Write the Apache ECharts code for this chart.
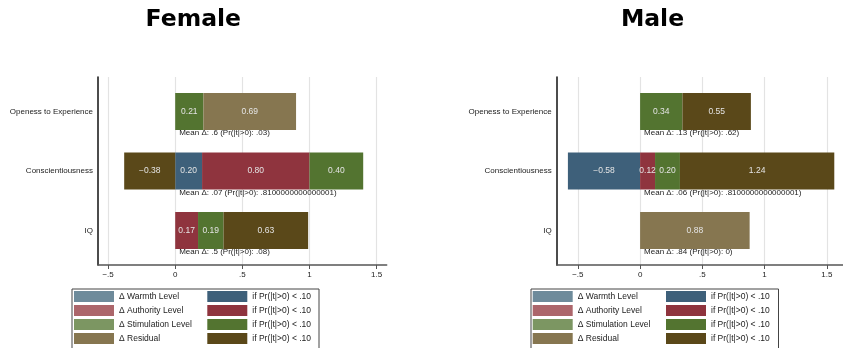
<!DOCTYPE html>
<html>
<head>
<meta charset="utf-8">
<script src="https://cdn.jsdelivr.net/npm/echarts@6/dist/echarts.min.js"></script>
<style>
  html, body { margin: 0; padding: 0; background: #fff; }
  #chart { width: 843px; height: 348px; }
</style>
</head>
<body>
<div id="chart"></div>
<script>
// Decomposition of mean differences into components, by gender
const categories = ['Openess to Experience', 'Conscientiousness', 'IQ'];
const componentNames = ['Δ Warmth Level', 'Δ Authority Level', 'Δ Stimulation Level', 'Δ Residual'];
const sigLabel = 'if Pr(|t|>0) < .10';
const xTicks = [-0.5, 0, 0.5, 1, 1.5];

// Female
const femaleWarmth      = [null, 0.20, null];
const femaleAuthority   = [null, 0.80, 0.17];
const femaleStimulation = [0.21, 0.40, 0.19];
const femaleResidual    = [0.69, -0.38, 0.63];
const femaleWarmthSig      = [false, true, false];
const femaleAuthoritySig   = [false, true, true];
const femaleStimulationSig = [true, true, true];
const femaleResidualSig    = [false, true, true];
const femaleMeanDelta = ['.6', '.07', '.5'];
const femalePValue    = ['.03', '.8100000000000001', '.08'];

// Male
const maleWarmth      = [null, -0.58, null];
const maleAuthority   = [null, 0.12, null];
const maleStimulation = [0.34, 0.20, null];
const maleResidual    = [0.55, 1.24, 0.88];
const maleWarmthSig      = [false, true, false];
const maleAuthoritySig   = [false, true, false];
const maleStimulationSig = [true, true, false];
const maleResidualSig    = [true, true, false];
const maleMeanDelta = ['.13', '.06', '.84'];
const malePValue    = ['.62', '.8100000000000001', '0'];

const lightColors = ['#6e8b9b', '#ac666b', '#7c9662', '#867650'];
const darkColors  = ['#3e607a', '#8f343e', '#537430', '#5a4819'];
const sigNames = ['sigWarmth', 'sigAuthority', 'sigStimulation', 'sigResidual'];

const FONT = '"Liberation Sans", Arial, sans-serif';
const BAR_H = 37;

function fmtValue(v) {
  const s = Math.abs(v).toFixed(2);
  return v < 0 ? '\u2212' + s : s;
}
function fmtTick(v) {
  if (v === 0) return '0';
  const s = String(Math.abs(v)).replace(/^0\./, '.');
  return (v < 0 ? '\u2212' : '') + s;
}

// Stack components left-to-right (positives from 0 rightwards, negatives leftwards)
function buildSegments(vals, sigs) {
  const light = vals.map(() => []);
  const dark = vals.map(() => []);
  for (let i = 0; i < categories.length; i++) {
    let pos = 0, neg = 0;
    for (let k = 0; k < vals.length; k++) {
      const v = vals[k][i];
      if (v == null) continue;
      let s, e;
      if (v >= 0) { s = pos; e = pos + v; pos = e; }
      else { e = neg; s = neg + v; neg = s; }
      (sigs[k][i] ? dark : light)[k].push([s, e, i, v]);
    }
  }
  return { light, dark };
}

function renderSegment(params, api) {
  const s = api.value(0), e = api.value(1), c = api.value(2), v = api.value(3);
  const p0 = api.coord([s, c]);
  const p1 = api.coord([e, c]);
  return {
    type: 'group',
    children: [
      {
        type: 'rect',
        shape: { x: p0[0], y: p0[1] - BAR_H / 2, width: p1[0] - p0[0], height: BAR_H },
        style: { fill: api.visual('color') }
      },
      {
        type: 'text',
        z2: 20,
        style: {
          text: fmtValue(v), x: (p0[0] + p1[0]) / 2, y: p0[1],
          align: 'center', verticalAlign: 'middle',
          fill: '#e4e4e4', fontSize: 8.5, fontFamily: FONT
        }
      }
    ]
  };
}

function renderMean(params, api) {
  const c = api.value(0);
  const p = api.coord([0, c]);
  return {
    type: 'text',
    z2: 30,
    style: {
      text: params.context.texts[params.dataIndex],
      x: p[0] + 4, y: p[1] + 21.5,
      align: 'left', verticalAlign: 'middle',
      fill: '#222', fontSize: 8, fontFamily: FONT
    }
  };
}

const panels = [
  {
    title: 'Female', center: 193.3,
    grid: { left: 98, top: 77, width: 288.7, height: 188 },
    xMin: -0.575, xMax: 1.575,
    vals: [femaleWarmth, femaleAuthority, femaleStimulation, femaleResidual],
    sigs: [femaleWarmthSig, femaleAuthoritySig, femaleStimulationSig, femaleResidualSig],
    mean: femaleMeanDelta, p: femalePValue,
    box: { x: 69.5, w: 247 }, col1: 74, col2: 207.3
  },
  {
    title: 'Male', center: 652.5,
    grid: { left: 556.7, top: 77, width: 288.7, height: 188 },
    xMin: -0.67, xMax: 1.63,
    vals: [maleWarmth, maleAuthority, maleStimulation, maleResidual],
    sigs: [maleWarmthSig, maleAuthoritySig, maleStimulationSig, maleResidualSig],
    mean: maleMeanDelta, p: malePValue,
    box: { x: 528.5, w: 247.5 }, col1: 532.7, col2: 666
  }
];

const option = {
  animation: false,
  backgroundColor: '#fff',
  grid: [], xAxis: [], yAxis: [], series: [], legend: [], graphic: []
};

panels.forEach((pn, idx) => {
  option.grid.push(Object.assign({ containLabel: false }, pn.grid));
  option.xAxis.push({
    type: 'value', gridIndex: idx, min: pn.xMin, max: pn.xMax,
    axisLine: { show: true, onZero: false, lineStyle: { color: '#555', width: 1.5 } },
    axisTick: { show: true, length: 4, customValues: xTicks, lineStyle: { color: '#555', width: 1 } },
    axisLabel: { customValues: xTicks, formatter: fmtTick, color: '#222', fontSize: 8, fontFamily: FONT, margin: 6 },
    splitLine: { show: true, lineStyle: { color: '#e3e3e3', width: 1.2 } }
  });
  option.yAxis.push({
    type: 'value', gridIndex: idx, inverse: true, min: -0.58, max: 2.58,
    axisLine: { show: true, onZero: false, lineStyle: { color: '#111', width: 1.5 } },
    axisTick: { show: false },
    axisLabel: {
      customValues: [0, 1, 2],
      formatter: v => categories[Math.round(v)] || '',
      color: '#222', fontSize: 8, fontFamily: FONT, margin: 5
    },
    splitLine: { show: false }
  });

  const seg = buildSegments(pn.vals, pn.sigs);
  for (let k = 0; k < 4; k++) {
    option.series.push({
      type: 'custom', name: componentNames[k], xAxisIndex: idx, yAxisIndex: idx,
      itemStyle: { color: lightColors[k] }, renderItem: renderSegment,
      data: seg.light[k], clip: false
    });
    option.series.push({
      type: 'custom', name: sigNames[k], xAxisIndex: idx, yAxisIndex: idx,
      itemStyle: { color: darkColors[k] }, renderItem: renderSegment,
      data: seg.dark[k], clip: false
    });
  }
  const texts = pn.mean.map((m, i) => 'Mean Δ: ' + m + ' (Pr(|t|>0): ' + pn.p[i] + ')');
  option.series.push({
    type: 'custom', name: 'mean' + idx, xAxisIndex: idx, yAxisIndex: idx,
    renderItem: (params, api) => { params.context.texts = texts; return renderMean(params, api); },
    data: categories.map((c, i) => [i]), clip: false
  });

  const legendBase = {
    orient: 'vertical', top: 291, padding: 0, itemGap: 3,
    itemWidth: 40, itemHeight: 11, icon: 'rect', selectedMode: false,
    textStyle: { color: '#222', fontSize: 8.5, fontFamily: FONT }
  };
  option.legend.push(Object.assign({}, legendBase, { left: pn.col1, data: componentNames }));
  option.legend.push(Object.assign({}, legendBase, { left: pn.col2, data: sigNames, formatter: () => sigLabel }));

  option.graphic.push({
    type: 'rect', left: pn.box.x, top: 286.5, silent: true,
    shape: { width: pn.box.w, height: 80 },
    style: { fill: 'none', stroke: '#444', lineWidth: 1 }
  });
  option.graphic.push({
    type: 'text', x: pn.center, y: 19.5, silent: true,
    style: {
      text: pn.title, align: 'center', verticalAlign: 'middle',
      fill: '#000', fontSize: 23.5, fontWeight: 'bold', fontFamily: '"DejaVu Sans", sans-serif'
    }
  });
});

const chart = echarts.init(document.getElementById('chart'), null, { renderer: 'canvas' });
chart.setOption(option);
</script>
</body>
</html>
